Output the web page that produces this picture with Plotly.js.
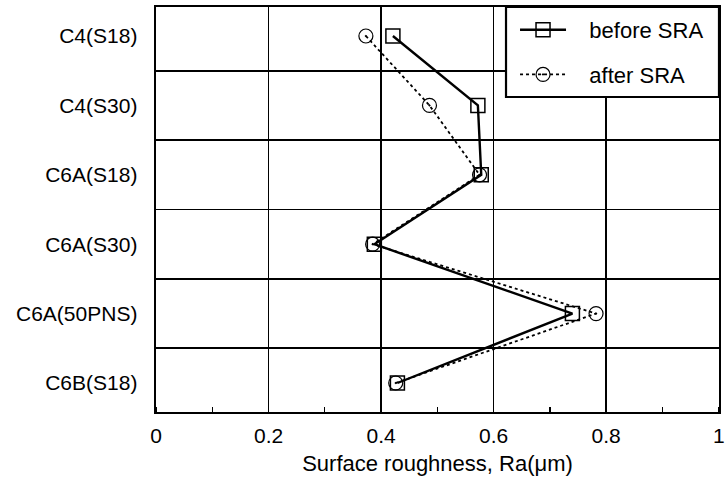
<!DOCTYPE html>
<html>
<head>
<meta charset="utf-8">
<script src="https://cdn.plot.ly/plotly-3.0.1.min.js"></script>
<style>html,body{margin:0;padding:0;background:#fff;}</style>
</head>
<body>
<div id="chart" style="width:725px;height:481px;"></div>
<script>
var categories = ["C4(S18)", "C4(S30)", "C6A(S18)", "C6A(S30)", "C6A(50PNS)", "C6B(S18)"];
var beforeSRA = [0.421, 0.572, 0.578, 0.388, 0.740, 0.429];
var afterSRA = [0.373, 0.486, 0.575, 0.385, 0.782, 0.426];
var xTickVals = [0, 0.2, 0.4, 0.6, 0.8, 1];
var xTickText = ["0", "0.2", "0.4", "0.6", "0.8", "1"];

var font = "Liberation Sans, Arial, Helvetica, sans-serif";
var pad = "\u00a0\u00a0\u00a0";

var traces = [
  {
    x: beforeSRA, y: categories, type: "scatter", mode: "lines+markers",
    name: pad + "before SRA", legendgroup: "a",
    line: {color: "#000", width: 2.4},
    marker: {symbol: "square-open", size: 14, color: "#000", line: {width: 1.5, color: "#000"}}
  },
  {
    x: afterSRA, y: categories, type: "scatter", mode: "lines+markers",
    name: pad + "after SRA", legendgroup: "b",
    line: {color: "#000", width: 1.8, dash: "dot"},
    marker: {symbol: "circle-open-dot", size: 14, color: "#000", line: {width: 1.2, color: "#000"}}
  }
];

var layout = {
  width: 725, height: 481,
  margin: {l: 156, r: 6, t: 7, b: 69},
  paper_bgcolor: "#fff", plot_bgcolor: "#fff",
  font: {family: font, color: "#000", size: 20},
  showlegend: true,
  legend: {
    x: 0.6377, xanchor: "left", y: 0.995, yanchor: "top",
    bgcolor: "rgba(0,0,0,0)", borderwidth: 0,
    font: {family: font, size: 22, color: "#000"},
    itemwidth: 46,
    tracegroupgap: 13, traceorder: "grouped"
  },
  shapes: [{
    type: "rect", xref: "paper", yref: "paper", layer: "above",
    x0: 0.6217, x1: 1, y0: 0.7778, y1: 1,
    fillcolor: "#fff", line: {color: "#000", width: 2.2}
  }],
  xaxis: {
    range: [0, 1.0005],
    tickvals: xTickVals, ticktext: xTickText,
    ticklabeloverflow: "allow",
    showgrid: true, gridcolor: "#000", gridwidth: 1.6,
    showline: true, linecolor: "#000", linewidth: 2.4, mirror: true,
    ticks: "", zeroline: false,
    ticklabelstandoff: 3,
    minor: {dtick: 0.1, ticks: "inside", ticklen: 5, tickcolor: "#000", tickwidth: 1.2, showgrid: false},
    tickfont: {family: font, size: 21, color: "#000"},
    title: {text: "Surface roughness, Ra(μm)", font: {family: font, size: 22, color: "#000"}, standoff: 10}
  },
  yaxis: {
    type: "category", categoryorder: "array", categoryarray: categories,
    autorange: "reversed",
    tickson: "boundaries",
    showgrid: true, gridcolor: "#000", gridwidth: 1.8,
    showline: true, linecolor: "#000", linewidth: 2.4, mirror: true,
    ticks: "", zeroline: false,
    ticklabelstandoff: 12,
    tickfont: {family: font, size: 21, color: "#000"}
  }
};

Plotly.newPlot("chart", traces, layout, {displayModeBar: false, staticPlot: true});
</script>
</body>
</html>
